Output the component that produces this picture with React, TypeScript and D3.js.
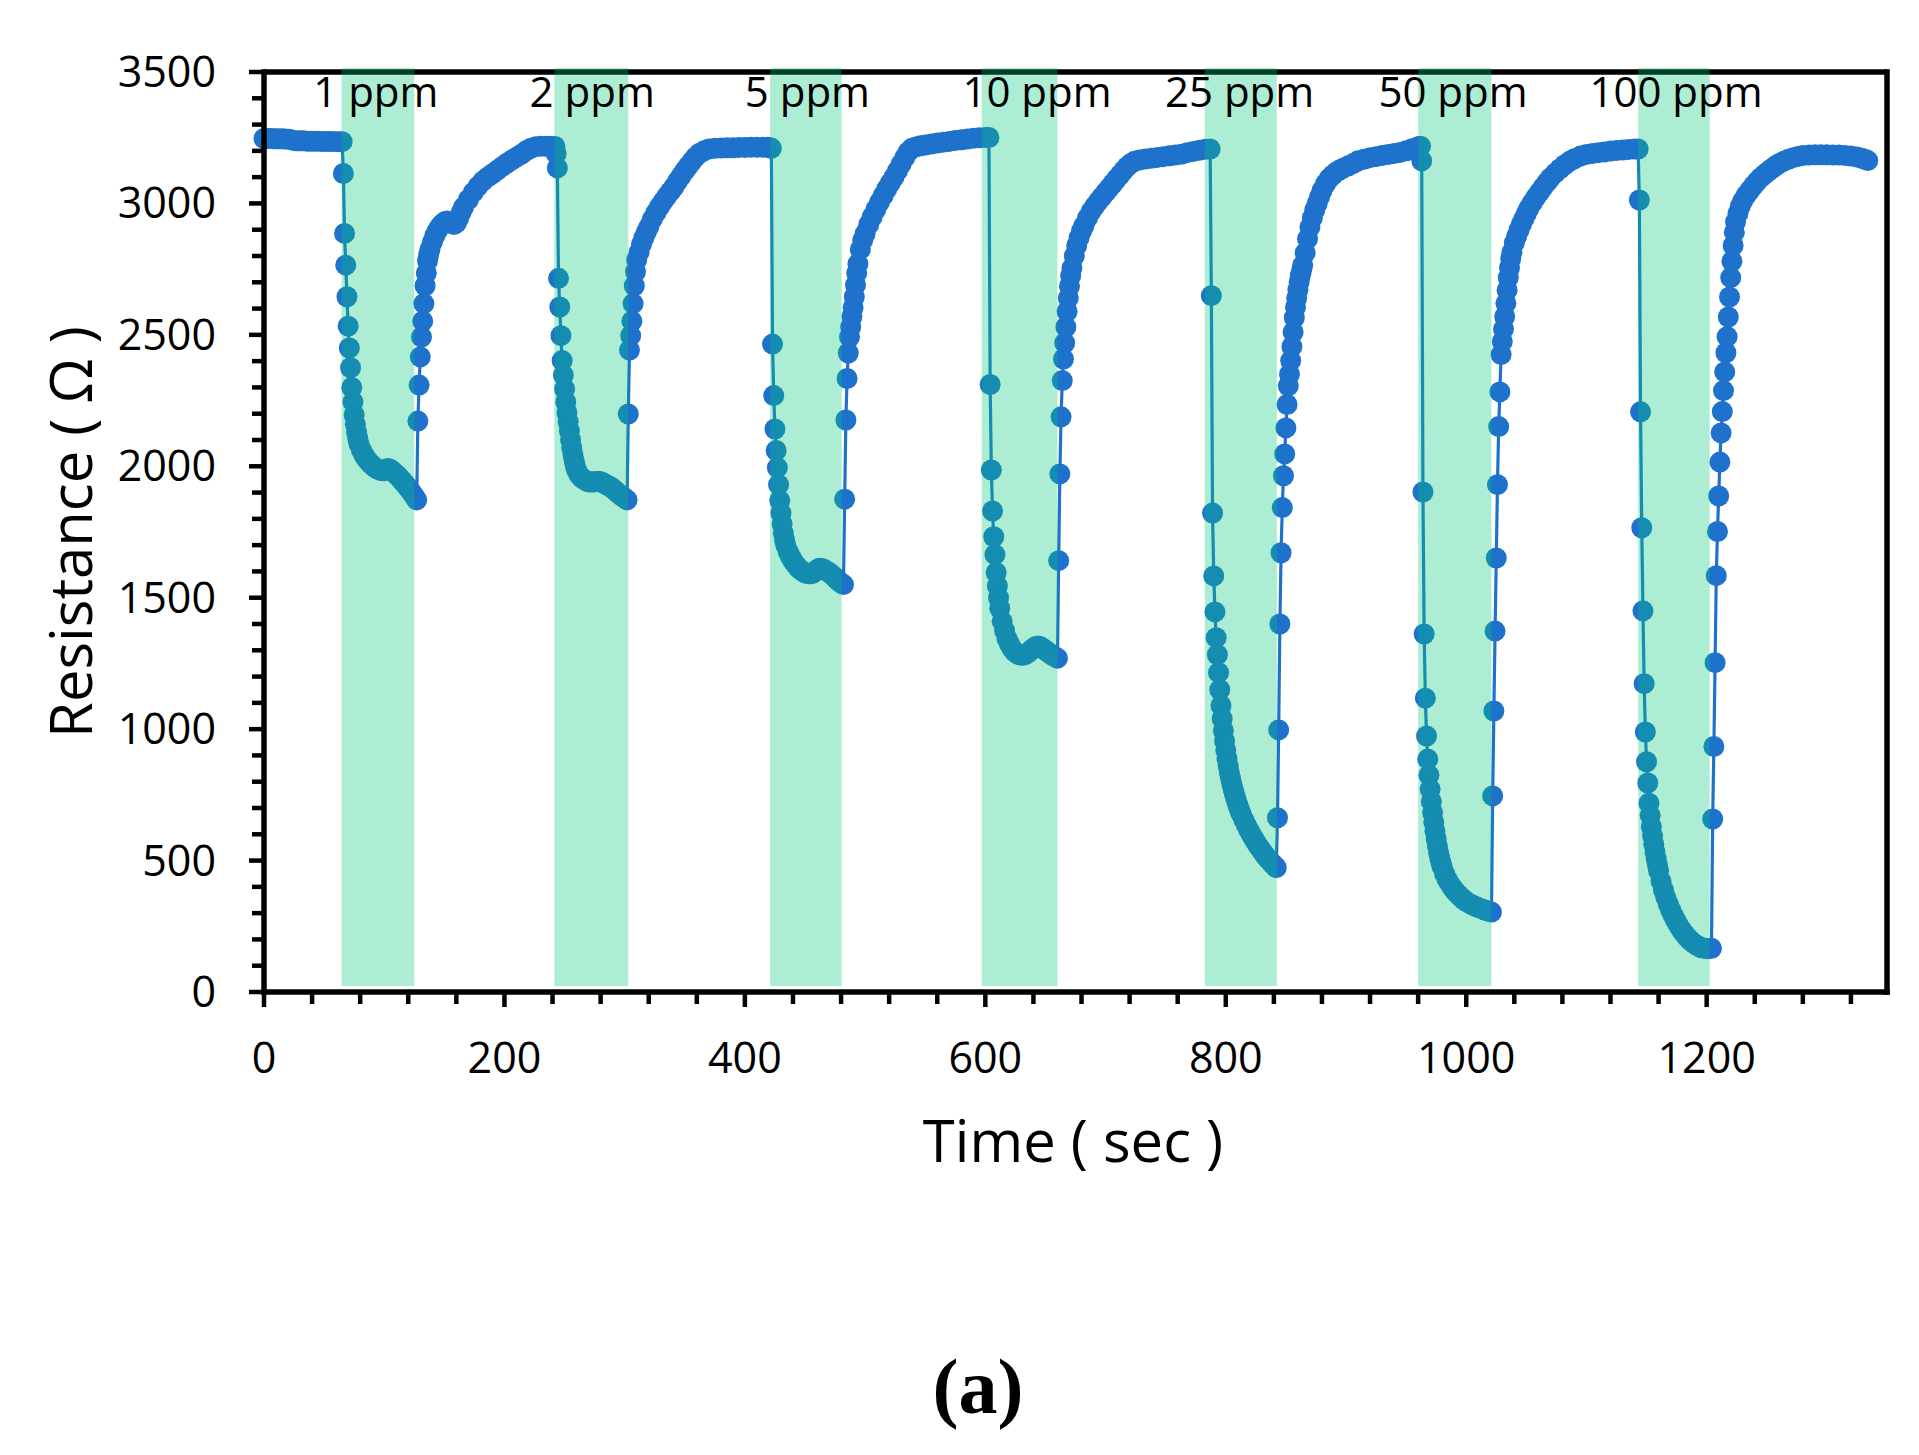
import React from 'react';
import * as d3 from 'd3';

// Resistance (Ohm) vs time (sec); [time, resistance] samples
const baseline: number[][] = [[0,3247],[3,3247],[6,3247],[9,3246],[12,3246],[15,3246],[18,3245],[21,3244],[24,3240],[27,3238],[30,3238],[33,3238],[36,3237],[39,3237],[42,3237],[45,3237],[48,3236],[51,3236],[54,3236],[57,3236],[60,3235],[63,3235],[65,3235]];

const cycle1: number[][] = [[66,3114],[67,2886],[68,2765],[69,2645],[70,2533],[71,2450],[72,2375],[73,2300],[74,2245],[75,2195],[76,2160],[77,2130],[78,2105],[79,2085],[81,2062],[83,2044],[85,2030],[87,2018],[89,2008],[91,2000],[93,1993],[95,1988],[97,1984],[99,1983],[101,1988],[103,1992],[105,1989],[107,1981],[109,1973],[111,1965],[113,1955],[115,1945],[117,1934],[119,1923],[121,1911],[123,1899],[125,1886],[127,1872],
[128,2172],[129,2309],[130,2416],[131,2492],[132,2552],[133,2619],[134,2687],[135,2735],[136,2782],[137,2805],[138,2825],[140,2852],[142,2876],[144,2895],[146,2910],[148,2921],[150,2929],[152,2933],[154,2930],[156,2924],[158,2920],[160,2926],[162,2945],[164,2966],[166,2986],[170,3015],[174,3042],[178,3065],[182,3085],[186,3100],[190,3113],[194,3126],[198,3140],[202,3153],[206,3165],[210,3176],[214,3187],[218,3200],[222,3210],[226,3216],[230,3218],[234,3218],[238,3218],[242,3217]];

const cycle2: number[][] = [[243,3190],[244,3135],[245,2715],[246,2606],[247,2497],[248,2402],[249,2347],[250,2294],[251,2245],[252,2205],[253,2170],[254,2135],[255,2100],[256,2070],[257,2045],[258,2020],[259,2000],[260,1985],[262,1968],[264,1957],[266,1950],[268,1945],[270,1941],[272,1940],[274,1940],[276,1942],[278,1943],[280,1941],[282,1937],[284,1932],[286,1927],[288,1922],[290,1916],[292,1908],[294,1900],[296,1892],[298,1885],[300,1879],[302,1872],
[303,2199],[304,2442],[305,2497],[306,2552],[307,2619],[308,2687],[309,2740],[310,2785],[312,2815],[314,2845],[316,2870],[318,2891],[320,2910],[323,2940],[326,2965],[329,2988],[332,3008],[335,3027],[338,3045],[341,3063],[344,3085],[347,3105],[350,3125],[353,3143],[356,3160],[359,3177],[362,3190],[366,3200],[370,3207],[375,3210],[380,3211],[385,3212],[390,3212],[395,3213],[400,3213],[405,3214],[410,3214],[415,3214],[419,3214],[421,3212]];

const cycle3: number[][] = [[422,3210],[423,2465],[424,2269],[425,2142],[426,2060],[427,1995],[428,1930],[429,1870],[430,1822],[431,1780],[432,1746],[433,1720],[434,1700],[436,1675],[438,1656],[440,1640],[442,1627],[444,1616],[446,1607],[448,1600],[450,1595],[452,1592],[454,1591],[456,1592],[458,1598],[460,1607],[462,1612],[464,1611],[466,1607],[468,1602],[470,1596],[472,1589],[474,1581],[476,1572],[478,1563],[480,1556],[482,1550],
[483,1875],[484,2176],[485,2334],[486,2431],[487,2492],[488,2530],[489,2570],[490,2604],[491,2645],[492,2690],[493,2735],[494,2770],[496,2825],[498,2860],[500,2885],[503,2920],[506,2950],[509,2978],[512,3005],[515,3030],[518,3055],[521,3078],[524,3100],[527,3125],[530,3150],[533,3175],[536,3197],[539,3210],[542,3215],[546,3219],[550,3222],[555,3226],[560,3230],[565,3233],[570,3236],[575,3239],[580,3242],[585,3245],[590,3248],[595,3250],[600,3251],[603,3251]];

const cycle4: number[][] = [[604,2311],[605,1986],[606,1830],[607,1732],[608,1664],[609,1596],[610,1545],[611,1500],[612,1460],[614,1410],[616,1375],[618,1345],[620,1325],[622,1308],[624,1296],[626,1288],[628,1283],[630,1281],[632,1282],[634,1286],[636,1292],[638,1300],[640,1308],[642,1314],[644,1316],[646,1313],[648,1307],[650,1300],[652,1293],[654,1287],[656,1280],[658,1275],[660,1270],
[661,1641],[662,1971],[663,2188],[664,2326],[665,2408],[666,2469],[667,2530],[668,2589],[669,2640],[670,2685],[671,2725],[672,2754],[674,2800],[676,2840],[678,2870],[680,2895],[682,2915],[685,2945],[688,2970],[691,2990],[694,3008],[697,3025],[700,3042],[703,3058],[706,3075],[709,3092],[712,3108],[715,3125],[718,3140],[721,3152],[724,3160],[728,3165],[733,3169],[738,3172],[743,3175],[748,3178],[753,3181],[758,3184],[763,3187],[768,3193],[773,3198],[778,3202],[783,3206],[787,3207]];

const cycle5: number[][] = [[788,2649],[789,1822],[790,1583],[791,1446],[792,1348],[793,1283],[794,1215],[795,1150],[796,1090],[797,1040],[798,995],[799,955],[800,920],[801,888],[802,860],[803,835],[804,812],[805,792],[806,774],[807,757],[808,741],[809,726],[810,712],[811,699],[812,687],[813,676],[815,655],[817,636],[819,618],[821,601],[823,585],[825,570],[827,556],[829,543],[831,530],[833,518],[835,507],[837,497],[839,487],[841,478],[842,473],
[843,663],[844,997],[845,1400],[846,1671],[847,1843],[848,1964],[849,2047],[850,2146],[851,2235],[852,2306],[853,2350],[854,2402],[855,2455],[856,2510],[857,2565],[858,2605],[859,2640],[860,2672],[861,2700],[862,2725],[863,2745],[864,2765],[866,2812],[868,2865],[870,2910],[872,2945],[874,2975],[876,3000],[878,3025],[880,3049],[883,3075],[886,3095],[889,3108],[892,3120],[895,3128],[898,3135],[902,3143],[906,3152],[910,3162],[915,3168],[920,3174],[925,3178],[930,3182],[935,3186],[940,3190],[945,3194],[950,3200],[955,3208],[960,3216],[962,3218]];

const cycle6: number[][] = [[963,3162],[964,1902],[965,1362],[966,1118],[967,974],[968,886],[969,825],[970,772],[971,725],[972,683],[973,646],[974,612],[975,582],[976,555],[977,531],[978,510],[979,492],[980,476],[982,450],[984,430],[986,414],[988,400],[990,388],[992,377],[994,368],[996,359],[998,351],[1000,344],[1003,336],[1006,329],[1009,323],[1012,318],[1015,313],[1018,308],[1021,304],
[1022,746],[1023,1069],[1024,1373],[1025,1651],[1026,1930],[1027,2151],[1028,2283],[1029,2425],[1030,2475],[1031,2522],[1032,2570],[1033,2620],[1034,2670],[1035,2718],[1036,2755],[1037,2790],[1038,2815],[1040,2850],[1042,2875],[1044,2900],[1046,2922],[1048,2942],[1050,2962],[1052,2980],[1055,3003],[1058,3024],[1061,3043],[1064,3062],[1067,3080],[1070,3097],[1074,3115],[1078,3132],[1082,3147],[1086,3160],[1090,3170],[1095,3180],[1100,3186],[1105,3190],[1110,3193],[1115,3196],[1120,3199],[1125,3201],[1130,3203],[1135,3205],[1140,3207],[1143,3207]];

const cycle7: number[][] = [[1144,3013],[1145,2207],[1146,1766],[1147,1450],[1148,1173],[1149,989],[1150,876],[1151,795],[1152,718],[1153,672],[1154,630],[1155,594],[1156,562],[1157,533],[1158,507],[1159,483],[1160,461],[1162,422],[1164,389],[1166,360],[1168,335],[1170,313],[1172,293],[1174,275],[1176,258],[1178,243],[1180,230],[1182,218],[1184,207],[1186,198],[1188,190],[1190,183],[1192,177],[1194,172],[1196,168],[1198,166],[1200,165],[1202,165],[1204,166],
[1205,658],[1206,934],[1207,1253],[1208,1584],[1209,1752],[1210,1887],[1211,2016],[1212,2127],[1213,2208],[1214,2288],[1215,2359],[1216,2432],[1217,2493],[1218,2568],[1219,2644],[1220,2718],[1221,2780],[1222,2840],[1223,2890],[1224,2930],[1226,2962],[1228,2990],[1230,3010],[1233,3032],[1236,3050],[1239,3068],[1242,3084],[1245,3098],[1248,3110],[1251,3121],[1254,3132],[1257,3142],[1260,3151],[1264,3160],[1268,3168],[1272,3174],[1276,3179],[1280,3182],[1285,3184],[1290,3185],[1295,3185],[1300,3185],[1305,3184],[1310,3184],[1315,3182],[1320,3180],[1325,3177],[1329,3172],[1332,3167],[1334,3163]];

// gas exposure windows (sec)
const exposureStart = [64.5, 241.5, 421, 597, 782.5, 960, 1143];
const exposureEnd = [125, 303, 480.5, 660, 842.5, 1021, 1202.5];
const ppmLabels = ['1 ppm', '2 ppm', '5 ppm', '10 ppm', '25 ppm', '50 ppm', '100 ppm'];
const labelTime = [93, 273, 452, 643, 811.5, 989, 1174.5];

const xTicks = [0, 200, 400, 600, 800, 1000, 1200];
const yTicks = [0, 500, 1000, 1500, 2000, 2500, 3000, 3500];

const FONT = "'Open Sans', 'Noto Sans', sans-serif";

export default function App() {
  const W = 1919, H = 1455;
  const left = 264, right = 1887, top = 72, bottom = 992;
  const x = d3.scaleLinear().domain([0, 1350]).range([left, right]);
  const y = d3.scaleLinear().domain([0, 3500]).range([bottom, top]);

  const points = [...baseline, ...cycle1, ...cycle2, ...cycle3, ...cycle4, ...cycle5, ...cycle6, ...cycle7];
  const line = d3.line<number[]>().x(d => x(d[0])).y(d => y(d[1]));

  const xMinor = d3.range(0, 1341, 40).filter(v => v % 200 !== 0);
  const yMinor = d3.range(0, 3501, 100).filter(v => v % 500 !== 0);

  const blue = '#1E72CC';
  const axisW = 5.5;

  return (
    <svg width={W} height={H} style={{ position: 'absolute', left: 0, top: 0, background: '#fff' }}>
      <rect x={0} y={0} width={W} height={H} fill="#fff" />
      {/* top & right frame */}
      <line x1={left} x2={right} y1={top} y2={top} stroke="#000" strokeWidth={axisW} />
      <line x1={right} x2={right} y1={top - axisW / 2} y2={bottom + axisW / 2} stroke="#000" strokeWidth={axisW} />

      {/* data */}
      <path d={line(points) || ''} fill="none" stroke={blue} strokeWidth={3.2} />
      {points.map((d, i) => (
        <circle key={i} cx={x(d[0])} cy={y(d[1])} r={10.5} fill={blue} />
      ))}

      {/* exposure bands */}
      {exposureStart.map((s, i) => (
        <rect key={'b' + i} x={x(s)} width={x(exposureEnd[i]) - x(s)} y={top - 4}
          height={bottom - 6 - (top - 4)} fill="rgb(0,200,119)" fillOpacity={0.32} />
      ))}

      {/* left & bottom axes */}
      <line x1={left} x2={left} y1={top - axisW / 2} y2={bottom + axisW / 2} stroke="#000" strokeWidth={axisW} />
      <line x1={left - axisW / 2} x2={right + axisW / 2} y1={bottom} y2={bottom} stroke="#000" strokeWidth={axisW} />

      {yTicks.map(v => (
        <g key={'yt' + v}>
          <line x1={left - 15} x2={left} y1={y(v)} y2={y(v)} stroke="#000" strokeWidth={4.5} />
          <text x={216} y={y(v) + 15} textAnchor="end" fontFamily={FONT} fontSize={43} fill="#000">{v}</text>
        </g>
      ))}
      {yMinor.map(v => (
        <line key={'ym' + v} x1={left - 12} x2={left} y1={y(v)} y2={y(v)} stroke="#000" strokeWidth={4.5} />
      ))}
      {xTicks.map(v => (
        <g key={'xt' + v}>
          <line x1={x(v)} x2={x(v)} y1={bottom} y2={bottom + 15} stroke="#000" strokeWidth={4.5} />
          <text x={x(v)} y={1073} textAnchor="middle" fontFamily={FONT} fontSize={43} fill="#000">{v}</text>
        </g>
      ))}
      {xMinor.map(v => (
        <line key={'xm' + v} x1={x(v)} x2={x(v)} y1={bottom} y2={bottom + 12} stroke="#000" strokeWidth={4.5} />
      ))}

      {/* concentration labels */}
      {ppmLabels.map((l, i) => (
        <text key={'l' + i} x={x(labelTime[i])} y={107} textAnchor="middle" fontFamily={FONT} fontSize={42} fill="#000">{l}</text>
      ))}

      {/* axis titles */}
      <text x={1073} y={1162} textAnchor="middle" fontFamily={FONT} fontSize={58} fill="#000">Time ( sec )</text>
      <text transform={`translate(92, ${(top + bottom) / 2}) rotate(-90)`} textAnchor="middle" fontFamily={FONT} fontSize={58} fill="#000">Resistance ( Ω )</text>

      <text x={978} y={1413} textAnchor="middle" fontFamily="'Liberation Serif', 'Times New Roman', serif" fontWeight="bold" fontSize={78} fill="#000">(a)</text>
    </svg>
  );
}
